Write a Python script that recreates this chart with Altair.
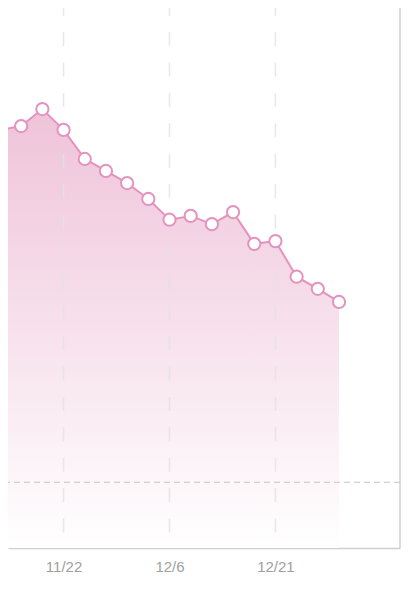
import altair as alt
import pandas as pd

idx = list(range(17))
values = [76.3, 77.0, 80.1, 76.3, 71.0, 68.8, 66.6, 63.7, 59.9, 60.6,
          59.1, 61.3, 55.5, 56.0, 49.5, 47.3, 44.9]
tick_pos = [3, 8, 13]
tick_labels = ["11/22", "12/6", "12/21"]
ref_value = 12
cursor_idx = 0

df = pd.DataFrame({"i": idx, "v": values})
lab_expr = "{" + ",".join(f"'{p}':'{l}'" for p, l in zip(tick_pos, tick_labels)) + "}[datum.value]"

PINK = "#e493bf"
X0, X1 = 0.3775, 18.879
xs = alt.Scale(domain=[X0, X1], nice=False, zero=False)
ys = alt.Scale(domain=[0, 98.54], nice=False)

base = alt.Chart(df)

area = base.mark_area(
    line=False,
    clip=True,
    color=alt.Gradient(
        gradient="linear",
        stops=[alt.GradientStop(color="#efc3d9", offset=0),
               alt.GradientStop(color="#ffffff", offset=1)],
        x1=0, x2=0, y1=0, y2=1,
    ),
).encode(
    x=alt.X("i:Q", scale=xs, axis=alt.Axis(
        values=tick_pos, labelExpr=lab_expr, title=None,
        grid=False,
        domain=True, domainColor="#cfcfcf", domainWidth=1.5,
        ticks=False, labelPadding=11, labelFontSize=15, labelColor="#a0a0a0",
        labelFont="Helvetica, Arial, sans-serif", labelFontWeight=500,
    )),
    y=alt.Y("v:Q", scale=ys, axis=None),
)

grid = alt.Chart(pd.DataFrame({"i": tick_pos})).mark_rule(
    color="#e2e2e2", opacity=0.8, strokeWidth=1.5,
    strokeDash=[14, 16.4], strokeDashOffset=6.3
).encode(x=alt.X("i:Q", scale=xs))

hline = alt.Chart(pd.DataFrame({"v": [ref_value]})).mark_rule(
    color="#c4c4c4", strokeDash=[6, 4], strokeWidth=1.2
).encode(y=alt.Y("v:Q", scale=ys))

rborder = alt.Chart(pd.DataFrame({"i": [X1]})).mark_rule(
    color="#cfcfcf", strokeWidth=1.5
).encode(x=alt.X("i:Q", scale=xs))

cursor = alt.Chart(pd.DataFrame({"i": [cursor_idx]})).mark_rule(
    color="#eaa6cb", strokeWidth=2.5, strokeDash=[15, 15], clip=True
).encode(x=alt.X("i:Q", scale=xs))

line = base.mark_line(color=PINK, strokeWidth=2, clip=True).encode(
    x=alt.X("i:Q", scale=xs), y=alt.Y("v:Q", scale=ys)
)

pts = base.transform_filter(f"datum.i != {cursor_idx}").mark_point(
    shape="circle", filled=True, fill="white", stroke=PINK, strokeWidth=2,
    size=150, opacity=1, clip=True
).encode(x=alt.X("i:Q", scale=xs), y=alt.Y("v:Q", scale=ys))

sel = base.transform_filter(f"datum.i == {cursor_idx}").mark_point(
    shape="circle", filled=True, fill=PINK, stroke="white", strokeWidth=2.5,
    size=180, opacity=1, clip=True
).encode(x=alt.X("i:Q", scale=xs), y=alt.Y("v:Q", scale=ys))

chart = alt.layer(area, grid, hline, cursor, rborder, line, pts, sel).properties(
    width=392, height=540,
    autosize=alt.AutoSizeParams(type="none"),
    padding={"left": 0, "top": 0, "right": 1, "bottom": 30},
).configure_view(stroke=None)

chart.save("out.html", embed_options={"renderer": "svg", "actions": False})
